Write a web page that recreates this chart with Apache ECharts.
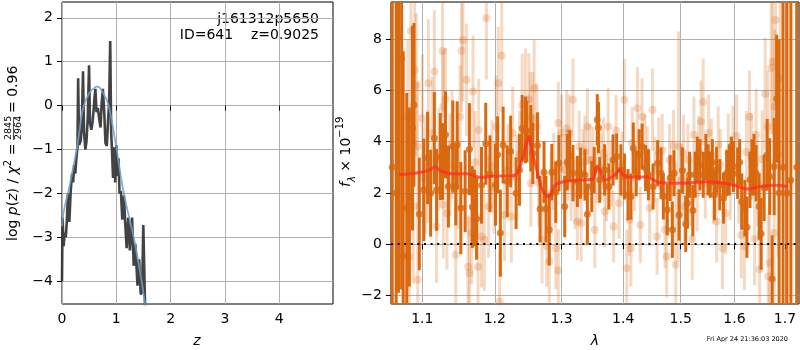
<!DOCTYPE html>
<html>
<head>
<meta charset="utf-8">
<script src="https://cdn.jsdelivr.net/npm/echarts@6/dist/echarts.min.js"></script>
<style>
  html, body { margin: 0; padding: 0; background: #fff; }
  #main { width: 800px; height: 350px; }
</style>
</head>
<body>
<div id="main"></div>
<script>
const chart = echarts.init(document.getElementById("main"));

// ---- left panel: log p(z) ----
const zGrid = [0.000, 0.010, 0.030, 0.050, 0.070, 0.090, 0.110, 0.135, 0.160, 0.185, 0.205, 0.225, 0.245, 0.265, 0.285, 0.297, 0.315, 0.345, 0.365, 0.387, 0.405, 0.430, 0.450, 0.475, 0.498, 0.515, 0.540, 0.565, 0.585, 0.600, 0.615, 0.635, 0.660, 0.685, 0.710, 0.730, 0.752, 0.780, 0.800, 0.825, 0.848, 0.868, 0.888, 0.905, 0.920, 0.940, 0.960, 0.980, 1.000, 1.020, 1.040, 1.060, 1.085, 1.110, 1.140, 1.165, 1.190, 1.220, 1.250, 1.290, 1.320, 1.350, 1.390, 1.420, 1.450, 1.475, 1.497, 1.530];
const logPz = [-4.0, -2.55, -3.2, -2.9, -3.0, -2.6, -2.0, -2.65, -1.95, -1.55, -1.75, -1.35, -1.55, -1.2, -0.95, 0.62, -0.9, -0.8, -0.45, 0.78, -0.6, -1.0, -0.83, -0.25, 0.92, -0.4, -0.55, -0.35, -0.05, 0.2, 0.38, -0.15, -0.05, -0.3, -0.5, 0.05, 0.38, -0.2, -0.85, -0.92, -0.35, 0.1, 1.47, -0.6, -1.0, -1.65, -0.95, -1.75, -0.9, -1.6, -1.2, -2.0, -1.95, -2.6, -2.05, -2.7, -3.25, -2.55, -3.3, -2.55, -3.65, -3.15, -4.1, -3.5, -4.3, -4.25, -2.72, -4.6];
const zSmooth = [0.0, 0.02, 0.06, 0.12, 0.2, 0.27, 0.33, 0.39, 0.5, 0.6, 0.66, 0.75, 0.85, 0.93, 1.0, 1.13, 1.32, 1.46, 1.53];
const logPzSmooth = [-2.75, -2.5, -2.25, -1.95, -1.45, -1.0, -0.5, -0.05, 0.28, 0.41, 0.43, 0.3, 0.04, -0.45, -0.95, -1.95, -3.0, -3.95, -4.55];
const leftXTicks = [0, 1, 2, 3, 4];
const leftYTicks = [-4, -3, -2, -1, 0, 1, 2];

// ---- right panel: spectrum (wavelength in micron, flux in 1e-19) ----
const darkLam = [1.061, 1.066, 1.069, 1.073, 1.075, 1.0796, 1.083, 1.087, 1.089, 1.096, 1.102, 1.107, 1.111, 1.116, 1.119, 1.124, 1.127, 1.131, 1.135, 1.141, 1.145, 1.147, 1.152, 1.158, 1.164, 1.168, 1.171, 1.174, 1.181, 1.187, 1.193, 1.201, 1.204, 1.208, 1.212, 1.218, 1.223, 1.231, 1.236, 1.240, 1.245, 1.247, 1.253, 1.256, 1.263, 1.267, 1.273, 1.276, 1.281, 1.285, 1.291, 1.296, 1.305, 1.309, 1.313, 1.318, 1.325, 1.330, 1.337, 1.341, 1.348, 1.352, 1.357, 1.359, 1.361, 1.369, 1.376, 1.383, 1.389, 1.396, 1.402, 1.408, 1.413, 1.417, 1.422, 1.427, 1.432, 1.438, 1.443, 1.451, 1.459, 1.465, 1.469, 1.476, 1.481, 1.485, 1.488, 1.497, 1.503, 1.509, 1.512, 1.516, 1.522, 1.526, 1.530, 1.535, 1.541, 1.546, 1.550, 1.554, 1.558, 1.562, 1.566, 1.572, 1.579, 1.585, 1.590, 1.594, 1.598, 1.606, 1.610, 1.614, 1.620, 1.624, 1.630, 1.634, 1.638, 1.642, 1.648, 1.652, 1.658, 1.664, 1.669, 1.674, 1.678, 1.683, 1.688, 1.696, 1.704, 1.712, 1.724];
const darkFlux = [3.0, 2.0, 8.1, 7.23, -0.46, 1.41, 1.84, 4.53, 5.44, 1.18, 2.12, 3.36, 1.99, 4.14, 2.12, 3.42, 3.23, 4.27, 2.25, 3.81, 2.23, 3.88, 1.41, 2.07, 3.71, 1.45, 1.41, 0.99, 2.3, 3.92, 2.75, 2.32, 3.49, 0.43, 3.87, 2.45, 3.62, 1.99, 2.9, 4.53, 4.46, 4.4, 4.14, 3.55, 3.85, 1.37, 2.81, 1.37, 0.56, 2.81, 2.03, 3.16, 1.47, 3.2, 3.45, 2.77, 2.45, 2.77, 2.7, 1.17, 2.25, 2.9, 4.86, 4.55, 2.51, 2.9, 2.25, 3.29, 3.42, 2.9, 2.64, 1.93, 1.86, 3.75, 2.77, 3.49, 3.81, 2.97, 2.71, 2.25, 3.16, 2.77, 1.86, 1.34, 2.58, 0.56, 2.77, 1.14, 2.88, 0.79, 1.6, 2.71, 1.31, 2.71, 3.3, 3.1, 2.71, 3.4, 2.9, 2.71, 3.2, 1.93, 2.9, 2.32, 1.8, 2.77, 2.9, 3.3, 3.03, 2.77, 3.2, 1.66, 1.41, 0.66, 2.51, 3.0, 3.1, 2.77, 1.47, 0.4, 2.2, 3.49, 2.64, -1.36, 3.03, 5.68, 2.0, 3.0, 2.0, 2.5, 3.0];
const darkErr = [12, 12, 10, 9, 8, 4.5, 3.5, 4.0, 3.2, 2.2, 2.0, 1.8, 1.7, 1.8, 1.6, 1.7, 1.5, 1.7, 1.6, 1.8, 1.5, 1.7, 1.8, 1.6, 1.8, 1.6, 1.5, 1.6, 1.5, 1.6, 1.5, 1.6, 1.5, 1.7, 1.5, 1.4, 1.4, 1.4, 1.4, 1.3, 1.3, 1.2, 1.3, 1.2, 1.3, 1.3, 1.2, 1.3, 1.4, 1.1, 1.2, 1.1, 1.2, 1.1, 1.0, 1.1, 1.0, 1.0, 1.0, 1.2, 1.0, 0.9, 1.0, 1.0, 0.9, 1.0, 0.9, 1.0, 0.9, 1.0, 0.9, 1.0, 0.9, 1.0, 0.9, 1.0, 0.9, 0.9, 1.0, 0.9, 0.9, 1.0, 0.9, 1.0, 0.9, 1.1, 0.9, 1.0, 0.9, 1.1, 1.0, 0.9, 1.0, 0.9, 0.9, 1.0, 0.9, 0.9, 1.0, 0.9, 0.9, 1.0, 0.9, 1.0, 1.0, 0.9, 1.0, 0.9, 1.0, 1.0, 0.9, 1.1, 1.1, 1.2, 1.1, 1.1, 1.2, 1.1, 1.3, 1.4, 1.3, 1.4, 1.5, 1.7, 1.9, 2.5, 6, 12, 12, 12, 12];

const lightLam = [1.081, 1.083, 1.085, 1.088, 1.090, 1.092, 1.094, 1.094, 1.100, 1.104, 1.107, 1.108, 1.113, 1.116, 1.119, 1.122, 1.127, 1.128, 1.128, 1.131, 1.133, 1.137, 1.140, 1.145, 1.148, 1.151, 1.153, 1.155, 1.160, 1.162, 1.164, 1.167, 1.169, 1.172, 1.176, 1.177, 1.181, 1.185, 1.188, 1.191, 1.196, 1.199, 1.202, 1.205, 1.207, 1.210, 1.214, 1.219, 1.224, 1.226, 1.232, 1.236, 1.240, 1.245, 1.250, 1.252, 1.253, 1.256, 1.258, 1.262, 1.265, 1.270, 1.277, 1.281, 1.284, 1.288, 1.291, 1.295, 1.295, 1.300, 1.304, 1.308, 1.310, 1.312, 1.315, 1.318, 1.321, 1.325, 1.328, 1.331, 1.334, 1.337, 1.341, 1.345, 1.350, 1.353, 1.357, 1.363, 1.367, 1.369, 1.372, 1.375, 1.380, 1.384, 1.388, 1.393, 1.398, 1.402, 1.406, 1.410, 1.413, 1.415, 1.419, 1.424, 1.429, 1.432, 1.437, 1.441, 1.445, 1.450, 1.454, 1.458, 1.461, 1.467, 1.472, 1.475, 1.480, 1.484, 1.487, 1.491, 1.496, 1.501, 1.505, 1.507, 1.513, 1.518, 1.521, 1.524, 1.530, 1.533, 1.537, 1.541, 1.545, 1.551, 1.556, 1.560, 1.566, 1.569, 1.573, 1.577, 1.583, 1.588, 1.592, 1.597, 1.604, 1.608, 1.613, 1.619, 1.623, 1.629, 1.633, 1.639, 1.642, 1.645, 1.649, 1.654, 1.660, 1.665, 1.666, 1.669, 1.672, 1.675, 1.678, 1.679, 1.681, 1.686, 1.690];
const lightFlux = [4.98, -0.48, 8.33, 1.47, 6.8, 6.22, 3.81, -1.39, 4.92, 2.6, 3.03, 6.29, 4.34, 6.74, 0.69, 3.3, 7.55, 5.38, 1.54, 5.66, 1.21, 3.1, 3.88, -0.42, 2.6, 4.98, 7.56, 7.98, 6.42, -0.88, -1.13, 0.43, 5.96, 3.2, -0.88, 4.46, 0.3, 0.17, 8.83, 1.47, 3.03, 2.2, 4.59, 6.29, -2.24, 7.36, 1.14, 2.9, 1.08, 4.34, 2.58, 3.5, 5.44, 5.64, 5.66, 4.92, 2.38, 4.92, 6.09, 4.59, 2.4, 0.17, -0.07, -0.68, 1.99, 2.84, -0.16, -1.03, 4.73, 4.34, 2.9, 4.53, 3.1, 4.34, 2.3, 5.64, 1.99, 0.88, 3.81, 0.82, 3.2, 3.62, 4.59, 3.29, 3.29, 0.56, 2.9, 3.0, 3.55, 1.27, 2.2, 4.59, 2.77, 0.69, 4.43, 1.6, 3.1, 5.64, -0.94, 0.95, -0.16, 3.95, 2.6, 5.31, 0.75, 4.98, 3.68, 3.3, 1.41, 5.25, 2.9, 0.3, 3.55, 3.68, 0.56, -0.48, 3.29, 2.2, 3.84, -0.81, 3.81, 2.5, 3.55, 1.47, 3.3, 2.1, 0.2, 4.27, 1.99, 3.6, 4.79, 5.55, 2.4, 4.34, 3.5, 2.2, 0.88, 3.88, 3.1, -0.16, 1.21, 3.6, 2.45, 3.9, 4.23, 2.3, 0.36, -0.09, 3.6, 4.98, 3.42, 0.2, 4.27, 2.4, -0.98, 3.32, 5.87, 4.59, -1.27, -0.74, 6.88, 7.13, 0.43, 5.38, 8.76, 3.5, 6.5];
const lightErr = [3.0, 3.0, 3.5, 3.0, 3.0, 2.8, 2.5, 3.0, 2.5, 2.2, 2.2, 2.5, 2.2, 2.4, 2.2, 2.0, 2.6, 2.2, 2.1, 2.0, 2.2, 2.0, 2.1, 2.2, 2.0, 2.0, 2.4, 2.4, 2.2, 2.0, 2.2, 2.0, 2.2, 2.0, 2.1, 2.0, 2.0, 2.0, 2.4, 2.0, 1.8, 1.8, 2.0, 2.2, 2.0, 2.2, 1.8, 1.8, 1.8, 1.8, 1.7, 1.7, 2.0, 2.0, 1.8, 1.8, 1.7, 1.8, 1.9, 1.7, 1.7, 1.7, 1.6, 1.6, 1.6, 1.5, 1.6, 1.6, 1.6, 1.5, 1.4, 1.5, 1.4, 1.5, 1.4, 1.6, 1.4, 1.5, 1.4, 1.5, 1.3, 1.4, 1.5, 1.4, 1.3, 1.5, 1.3, 1.3, 1.4, 1.4, 1.3, 1.5, 1.3, 1.4, 1.4, 1.4, 1.3, 1.6, 1.5, 1.4, 1.5, 1.4, 1.3, 1.6, 1.5, 1.5, 1.4, 1.3, 1.5, 1.6, 1.3, 1.5, 1.4, 1.4, 1.5, 1.6, 1.4, 1.3, 1.4, 4.0, 4.5, 1.4, 1.5, 1.5, 1.4, 1.4, 1.6, 1.5, 1.5, 1.4, 1.6, 1.7, 1.4, 1.5, 1.4, 1.4, 1.6, 1.5, 1.4, 1.6, 1.6, 1.5, 1.5, 1.5, 1.6, 1.5, 1.7, 1.7, 1.6, 1.8, 1.7, 1.8, 1.8, 1.7, 2.0, 1.9, 2.2, 2.2, 2.4, 2.4, 2.6, 2.8, 3.0, 3.0, 3.5, 4.0, 4.0];

const modelLam = [1.070, 1.085, 1.100, 1.110, 1.117, 1.125, 1.140, 1.160, 1.180, 1.200, 1.220, 1.232, 1.240, 1.246, 1.250, 1.255, 1.262, 1.270, 1.280, 1.290, 1.305, 1.330, 1.350, 1.356, 1.362, 1.370, 1.380, 1.388, 1.394, 1.400, 1.410, 1.440, 1.460, 1.500, 1.550, 1.600, 1.625, 1.650, 1.680, 1.705];
const modelFlux = [2.72, 2.75, 2.82, 2.9, 3.02, 2.85, 2.75, 2.75, 2.6, 2.66, 2.66, 2.75, 3.3, 3.9, 4.2, 3.6, 2.9, 2.15, 1.85, 2.3, 2.45, 2.5, 2.55, 3.05, 2.85, 2.5, 2.6, 2.75, 2.92, 2.7, 2.62, 2.62, 2.42, 2.38, 2.44, 2.3, 2.15, 2.25, 2.3, 2.25];
const lamTicks = [1.1, 1.2, 1.3, 1.4, 1.5, 1.6, 1.7];
const rightYTicks = [-2, 0, 2, 4, 6, 8];

const FONT = "DejaVu Sans";
const ORANGE = "#d9680f";
const minus = (v) => (v < 0 ? "\u2212" + Math.abs(v) : String(v));

const lnMin = Math.log(1.0594);
const lnMax = Math.log(1.7288);

const toPts = (xs, ys) => xs.map((x, i) => [x, ys[i]]);
const toSpec = (lam, f, e) => lam.map((l, i) => [Math.log(l), f[i], e[i]]);

const errorBars = (color, width) => (params, api) => {
  const x = api.value(0), y = api.value(1), e = api.value(2);
  const cs = params.coordSys;
  const top = api.coord([x, y + e]);
  const bot = api.coord([x, y - e]);
  const y1 = Math.max(cs.y, top[1]);
  const y2 = Math.min(cs.y + cs.height, bot[1]);
  if (y2 <= y1) return null;
  return {
    type: "line",
    shape: { x1: top[0], y1: y1, x2: top[0], y2: y2 },
    style: { stroke: color, lineWidth: width },
  };
};

const tickStyle = { show: true, inside: false, length: 5, lineStyle: { color: "#000", width: 1 } };
const gridLine = { show: true, lineStyle: { color: "#b0b0b0", width: 1 } };
const labelStyle = { color: "#000", fontSize: 14, fontFamily: FONT };

option = {
  animation: false,
  backgroundColor: "#fff",
  grid: [
    { left: 62, top: 2, width: 271, height: 302, show: true, borderColor: "#000", borderWidth: 1 },
    { left: 391, top: 2, width: 408, height: 302, show: true, borderColor: "#000", borderWidth: 1 },
  ],
  xAxis: [
    {
      gridIndex: 0, type: "value", min: 0, max: 4.99,
      axisLine: { show: false },
      axisTick: Object.assign({ customValues: leftXTicks }, tickStyle),
      splitLine: gridLine,
      axisLabel: Object.assign({ margin: 8, customValues: leftXTicks }, labelStyle),
    },
    {
      gridIndex: 1, type: "value", min: lnMin, max: lnMax,
      axisLine: { show: false },
      axisTick: Object.assign({ customValues: lamTicks.map(Math.log) }, tickStyle),
      splitLine: gridLine,
      axisLabel: Object.assign({
        margin: 8,
        customValues: lamTicks.map(Math.log),
        formatter: (v) => Math.exp(v).toFixed(1),
      }, labelStyle),
    },
  ],
  yAxis: [
    {
      gridIndex: 0, type: "value", min: -4.52, max: 2.36,
      axisLine: { show: false },
      axisTick: Object.assign({ customValues: leftYTicks }, tickStyle),
      splitLine: gridLine,
      axisLabel: Object.assign({ margin: 9, customValues: leftYTicks, formatter: minus }, labelStyle),
    },
    {
      gridIndex: 1, type: "value", min: -2.34, max: 9.46,
      axisLine: { show: false },
      axisTick: Object.assign({ customValues: rightYTicks }, tickStyle),
      splitLine: gridLine,
      axisLabel: Object.assign({ margin: 9, customValues: rightYTicks, formatter: minus }, labelStyle),
    },
  ],
  series: [
    {
      type: "line", xAxisIndex: 0, yAxisIndex: 0, showSymbol: false,
      data: toPts(zGrid, logPz),
      lineStyle: { color: "#333333", width: 2.6, opacity: 0.92 },
    },
    {
      type: "line", xAxisIndex: 0, yAxisIndex: 0, showSymbol: false, smooth: 0.4,
      data: toPts(zSmooth, logPzSmooth),
      lineStyle: { color: "#6f9fc8", width: 1.8, opacity: 0.85 },
    },
    {
      type: "custom", xAxisIndex: 1, yAxisIndex: 1,
      renderItem: errorBars("rgba(217,104,15,0.25)", 3),
      encode: { x: 0, y: 1 },
      data: toSpec(lightLam, lightFlux, lightErr),
    },
    {
      type: "scatter", xAxisIndex: 1, yAxisIndex: 1, symbolSize: 8,
      itemStyle: { color: "rgba(217,104,15,0.3)" },
      data: toSpec(lightLam, lightFlux, lightErr),
    },
    {
      type: "custom", xAxisIndex: 1, yAxisIndex: 1,
      renderItem: errorBars(ORANGE, 3),
      encode: { x: 0, y: 1 },
      data: toSpec(darkLam, darkFlux, darkErr),
    },
    {
      type: "scatter", xAxisIndex: 1, yAxisIndex: 1, symbolSize: 7,
      itemStyle: { color: ORANGE },
      data: toSpec(darkLam, darkFlux, darkErr),
    },
    {
      type: "line", xAxisIndex: 1, yAxisIndex: 1, showSymbol: false, smooth: 0.35,
      data: modelLam.map((l, i) => [Math.log(l), modelFlux[i]]),
      lineStyle: { color: "#ff2a1a", width: 3, opacity: 0.72 },
    },
    {
      type: "line", xAxisIndex: 1, yAxisIndex: 1, showSymbol: false,
      data: [[lnMin, 0], [lnMax, 0]],
      lineStyle: { color: "#000", width: 2, type: [2, 4.6] },
    },
  ],
  graphic: [
    {
      type: "group", x: 13, y: 241, rotation: Math.PI / 2,
      children: [
        {
          type: "text", x: 0, y: 0,
          style: {
            text: "{r|log }{i|p}{r|(}{i|z}{r|) / }{i|\u03c7}{s|2}{r| =}",
            rich: {
              r: { fontSize: 14, fontFamily: FONT, fill: "#000", lineHeight: 20 },
              i: { fontSize: 14, fontFamily: FONT, fontStyle: "italic", fill: "#000", lineHeight: 20 },
              s: { fontSize: 10, fontFamily: FONT, fill: "#000", lineHeight: 20, verticalAlign: "top" },
            },
            verticalAlign: "middle", align: "left",
          },
        },
        { type: "text", x: 101, y: -4.5, style: { text: "2845", fontSize: 9.5, fontFamily: FONT, fill: "#000", verticalAlign: "middle", align: "left" } },
        { type: "line", shape: { x1: 101, y1: 0.5, x2: 124, y2: 0.5 }, style: { stroke: "#000", lineWidth: 0.7 } },
        { type: "text", x: 101, y: 6, style: { text: "2964", fontSize: 9.5, fontFamily: FONT, fill: "#000", verticalAlign: "middle", align: "left" } },
        { type: "text", x: 128, y: 0, style: { text: "= 0.96", fontSize: 14, fontFamily: FONT, fill: "#000", verticalAlign: "middle", align: "left" } },
      ],
    },
    {
      type: "group", x: 346, y: 187, rotation: Math.PI / 2,
      children: [
        {
          type: "text", x: 0, y: 0,
          style: {
            text: "{i|f}{sub|\u03bb}{r| \u00d7 10}{sup|\u221219}",
            rich: {
              r: { fontSize: 14, fontFamily: FONT, fill: "#000", lineHeight: 22 },
              i: { fontSize: 14, fontFamily: FONT, fontStyle: "italic", fill: "#000", lineHeight: 22 },
              sub: { fontSize: 10, fontFamily: FONT, fontStyle: "italic", fill: "#000", lineHeight: 22, verticalAlign: "bottom" },
              sup: { fontSize: 10, fontFamily: FONT, fill: "#000", lineHeight: 22, verticalAlign: "top" },
            },
            verticalAlign: "middle", align: "left",
          },
        },
      ],
    },
    { type: "text", x: 319, y: 19, style: { text: "j161312p5650", fontSize: 14, fontFamily: FONT, fill: "#000", align: "right", verticalAlign: "middle" } },
    { type: "text", x: 319, y: 35, style: { text: "ID=641    z=0.9025", fontSize: 14, fontFamily: FONT, fill: "#000", align: "right", verticalAlign: "middle" } },
    { type: "text", x: 197, y: 341, style: { text: "z", fontSize: 14, fontStyle: "italic", fontFamily: FONT, fill: "#000", align: "center", verticalAlign: "middle" } },
    { type: "text", x: 595, y: 341, style: { text: "\u03bb", fontSize: 14, fontStyle: "italic", fontFamily: FONT, fill: "#000", align: "center", verticalAlign: "middle" } },
    { type: "text", x: 788, y: 339, style: { text: "Fri Apr 24 21:36:03 2020", fontSize: 6.5, fontFamily: FONT, fill: "#000", align: "right", verticalAlign: "middle" } },
  ],
};

chart.setOption(option);
</script>
</body>
</html>
